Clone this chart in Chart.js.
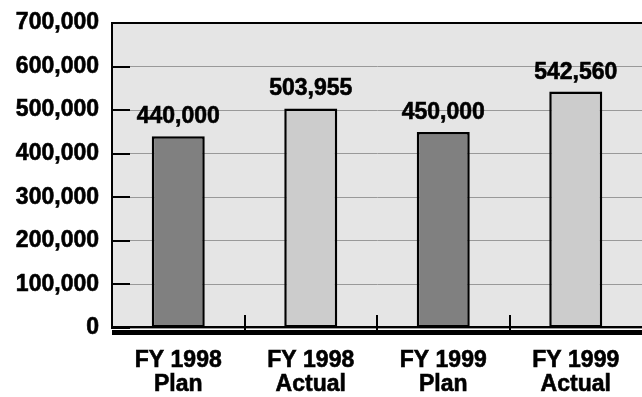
<!DOCTYPE html>
<html>
<head>
<meta charset="utf-8">
<script src="https://cdn.jsdelivr.net/npm/chart.js@4.4.0/dist/chart.umd.min.js"></script>
<style>
  html, body { margin: 0; padding: 0; background: #fff; }
  #wrap { width: 642px; height: 397px; }
</style>
</head>
<body>
<div id="wrap"><canvas id="budgetChart" width="642" height="397"></canvas></div>
<script>
const categories = [['FY 1998', 'Plan'], ['FY 1998', 'Actual'], ['FY 1999', 'Plan'], ['FY 1999', 'Actual']];
const values = [440000, 503955, 450000, 542560];
const barColors = ['#808080', '#cccccc', '#808080', '#cccccc'];
const yMax = 700000;
const yStep = 100000;

const fmt = v => v.toLocaleString('en-US');
const FONT = '"Liberation Sans", Arial, sans-serif';

// plot background, frame, inner ticks, heavy baseline and value labels
const framePlugin = {
    id: 'frame',
    beforeDraw(chart) {
        const { ctx, chartArea: a } = chart;
        ctx.save();
        ctx.fillStyle = '#e5e5e5';
        ctx.fillRect(a.left, a.top, a.right - a.left, a.bottom - a.top);
        ctx.restore();
    },
    afterDatasetsDraw(chart) {
        const { ctx, chartArea: a, scales } = chart;
        const x = scales.x, y = scales.y;
        ctx.save();
        ctx.strokeStyle = '#000';
        ctx.lineWidth = 2;
        // top border
        ctx.beginPath();
        ctx.moveTo(a.left, a.top);
        ctx.lineTo(a.right, a.top);
        ctx.stroke();
        // short ticks on the value axis
        y.ticks.forEach(t => {
            const py = Math.round(y.getPixelForValue(t.value));
            ctx.beginPath();
            ctx.moveTo(a.left, py);
            ctx.lineTo(a.left + 18, py);
            ctx.stroke();
        });
        // ticks between categories
        const step = x.getPixelForValue(1) - x.getPixelForValue(0);
        for (let i = 0; i < categories.length - 1; i++) {
            const px = Math.round(x.getPixelForValue(i) + step / 2);
            ctx.beginPath();
            ctx.moveTo(px, a.bottom + 2);
            ctx.lineTo(px, a.bottom - 13);
            ctx.stroke();
        }
        // bottom line and heavy base
        ctx.beginPath();
        ctx.moveTo(a.left, a.bottom - 1);
        ctx.lineTo(a.right, a.bottom - 1);
        ctx.stroke();
        ctx.fillStyle = '#000';
        ctx.fillRect(a.left, a.bottom + 2, a.right - a.left, 5);

        // value labels over the bars
        ctx.font = 'bold 23px ' + FONT;
        ctx.textAlign = 'center';
        ctx.textBaseline = 'alphabetic';
        ctx.lineWidth = 0.6;
        chart.getDatasetMeta(0).data.forEach((bar, i) => {
            ctx.fillText(fmt(values[i]), bar.x, bar.y - 13);
            ctx.strokeText(fmt(values[i]), bar.x, bar.y - 13);
        });
        ctx.restore();
    }
};

new Chart(document.getElementById('budgetChart'), {
    type: 'bar',
    data: {
        labels: categories,
        datasets: [{
            data: values,
            backgroundColor: barColors,
            borderColor: '#000',
            borderWidth: 2.5,
            borderSkipped: false,
            barPercentage: 0.4,
            categoryPercentage: 1
        }]
    },
    options: {
        responsive: false,
        animation: false,
        layout: { padding: { top: 23, right: 0, bottom: 0, left: 0 } },
        plugins: {
            legend: { display: false },
            tooltip: { enabled: false }
        },
        scales: {
            x: {
                grid: { display: false, drawTicks: false },
                border: { display: false },
                ticks: {
                    color: '#000',
                    padding: 21,
                    textStrokeColor: '#000',
                    textStrokeWidth: 0.6,
                    font: { family: FONT, size: 23, weight: 'bold', lineHeight: 1.02 }
                },
                afterFit(s) { s.height = 69; }
            },
            y: {
                min: 0,
                max: yMax,
                grid: { color: '#999999', lineWidth: 1, drawTicks: false },
                border: { display: true, color: '#000', width: 2 },
                ticks: {
                    stepSize: yStep,
                    color: '#000',
                    padding: 13,
                    textStrokeColor: '#000',
                    textStrokeWidth: 0.6,
                    font: { family: FONT, size: 23, weight: 'bold' },
                    callback: v => fmt(v)
                },
                afterFit(s) {
                    s.width = 112;
                    s.paddingTop = 0;
                    s.paddingBottom = 0;
                }
            }
        }
    },
    plugins: [framePlugin]
});
</script>
</body>
</html>
